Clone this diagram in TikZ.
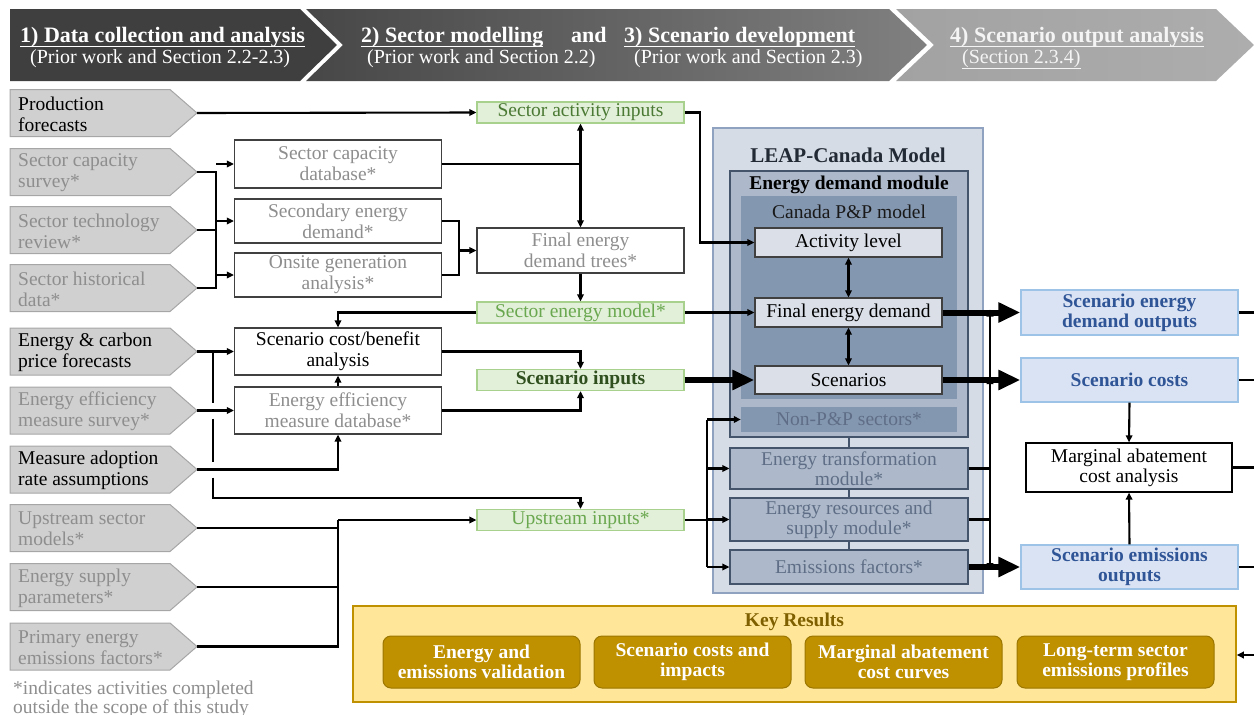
\documentclass[tikz,border=0pt]{standalone}
\usepackage{fontspec}
\setmainfont{Liberation Serif}
\usetikzlibrary{arrows.meta,calc}

\definecolor{hdA}{HTML}{3F3F3F}
\definecolor{hdBa}{HTML}{474747}
\definecolor{hdBb}{HTML}{808080}
\definecolor{hdCa}{HTML}{A2A2A2}
\definecolor{hdCb}{HTML}{ADADAD}
\definecolor{hdT}{HTML}{F4F4F4}
\definecolor{chevF}{HTML}{D0D0D0}
\definecolor{chevD}{HTML}{A6A6A6}
\definecolor{txtG}{HTML}{8E8E8E}
\definecolor{boxD}{HTML}{404040}
\definecolor{grnF}{HTML}{E2EFD9}
\definecolor{grnD}{HTML}{A9D18E}
\definecolor{grnTa}{HTML}{4B7A34}
\definecolor{grnTb}{HTML}{6AA84F}
\definecolor{grnTc}{HTML}{2F4F1E}
\definecolor{leapF}{HTML}{D6DCE5}
\definecolor{leapD}{HTML}{8FA3C0}
\definecolor{leapT}{HTML}{222A35}
\definecolor{edmF}{HTML}{ADB9CA}
\definecolor{edmD}{HTML}{44546A}
\definecolor{cppF}{HTML}{8497B0}
\definecolor{modT}{HTML}{5F6E86}
\definecolor{lvlF}{HTML}{DADFE8}
\definecolor{outF}{HTML}{DAE3F3}
\definecolor{outD}{HTML}{9DC3E6}
\definecolor{outT}{HTML}{2F5597}
\definecolor{krF}{HTML}{FFE699}
\definecolor{krD}{HTML}{BF9000}
\definecolor{krT}{HTML}{7F6000}
\definecolor{krI}{HTML}{BF9000}
\definecolor{krID}{HTML}{9C7700}

\newcommand\fsBody{\fontsize{19.5}{21}\selectfont}
\newcommand\fsMod{\fontsize{19.5}{20}\selectfont}
\newcommand\fsHead{\fontsize{22}{24}\selectfont}
\newcommand\fsSub{\fontsize{20}{22}\selectfont}
\newcommand\fsLeap{\fontsize{21}{23}\selectfont}

% grey input chevron: name, centre y, text colour, text
\newcommand\chev[4]{%
  \draw[chevshape] (10,#2-23.5) -- (170,#2-23.5) -- (197,#2) -- (170,#2+23.5) -- (10,#2+23.5) -- cycle;
  \node[chevtext,text=#3] (#1) at (18,#2+1) {#4};
  \coordinate (#1-tip) at (197,#2);}

\begin{document}
\begin{tikzpicture}[x=1pt,y=-1pt,
  every node/.style={font=\fsBody,inner sep=0pt},
  conn/.style={line width=2.1pt},
  arr/.style={conn,-{Triangle[length=7pt,width=6.5pt]}},
  darr/.style={conn,{Triangle[length=7pt,width=6.5pt]}-{Triangle[length=7pt,width=6.5pt]}},
  tarr/.style={line width=6pt,-{Triangle[length=22pt,width=19pt]}},
  chevshape/.style={fill=chevF,draw=chevD,line width=1pt},
  chevtext/.style={anchor=west,align=left},
  wbox/.style={draw=boxD,fill=white,line width=1.2pt,minimum width=207pt,align=center},
  gbox/.style={draw=grnD,fill=grnF,line width=1.2pt,minimum width=207pt,minimum height=21pt,align=center},
  lvlbox/.style={draw=boxD,fill=lvlF,line width=1.2pt,minimum width=187pt,minimum height=29pt},
  modbox/.style={draw=edmD,fill=edmF,line width=1.2pt,minimum width=238pt,align=center,text=modT,font=\fsMod},
  obox/.style={draw=outD,fill=outF,line width=1.2pt,minimum width=217pt,minimum height=44pt,align=center,text=outT,font=\fsMod\bfseries},
  kbox/.style={draw=krID,fill=krI,line width=1pt,rounded corners=8pt,minimum width=197pt,minimum height=52pt,align=center,text=white,font=\fsMod\bfseries},
  hdtitle/.style={anchor=base west,text=white,font=\fsHead\bfseries},
  hdsub/.style={anchor=base west,text=white,font=\fsSub},
  uline/.style={line width=1.3pt}
]
\useasboundingbox (0,0) rectangle (1254,715);

% ---------- stage banner ----------
\fill[hdA] (10,9) -- (300,9) -- (337,45) -- (300,81) -- (10,81) -- cycle;
\shade[left color=hdBa,right color=hdBb] (306,9) -- (889,9) -- (927,45) -- (889,81) -- (306,81) -- (343,45) -- cycle;
\shade[left color=hdCa,right color=hdCb] (896,9) -- (1216,9) -- (1254,45) -- (1216,81) -- (896,81) -- (934,45) -- cycle;

\node[hdtitle] (h1) at (20,42) {1) Data collection and analysis};
\node[hdsub] (h1s) at (30,63.5) {(Prior work and Section 2.2-2.3)};
\node[hdtitle] (h2) at (361,42) {2) Sector modelling};
\node[hdtitle] (hand) at (571,42) {and};
\node[hdtitle] (h3) at (624,42) {3) Scenario development};
\node[hdsub] (h2s) at (367,63.5) {(Prior work and Section 2.2)};
\node[hdsub] (h3s) at (634,63.5) {(Prior work and Section 2.3)};
\node[hdtitle,text=hdT] (h4) at (950,42) {4) Scenario output analysis};
\node[hdsub,text=hdT] (h4s) at (962,63.5) {(Section 2.3.4)};
\foreach \h in {h1,h2,h3}
  \draw[uline,white] ($(\h.base west)+(0,4.5)$) -- ($(\h.base east)+(0,4.5)$);
\draw[uline,hdT] ($(h4.base west)+(0,4.5)$) -- ($(h4.base east)+(0,4.5)$);
\draw[line width=1pt,hdT] ($(h4s.base west)+(0,4.5)$) -- ($(h4s.base east)+(0,4.5)$);

% ---------- input chevrons ----------
\chev{pf}{113}{black}{Production\\forecasts}
\chev{scs}{172}{txtG}{Sector capacity\\survey*}
\chev{str}{230}{txtG}{Sector technology\\review*}
\chev{shd}{288}{txtG}{Sector historical\\data*}
\chev{ecp}{351.5}{black}{Energy \& carbon\\price forecasts}
\chev{ees}{410.5}{txtG}{Energy efficiency\\measure survey*}
\chev{mar}{469.5}{black}{Measure adoption\\rate assumptions}
\chev{uss}{528}{txtG}{Upstream sector\\models*}
\chev{esp}{587}{txtG}{Energy supply\\parameters*}
\chev{pef}{646.5}{txtG}{Primary energy\\emissions factors*}

\node[anchor=base west,text=txtG] (fn1) at (13,694) {*indicates activities completed};
\node[anchor=base west,text=txtG] (fn2) at (13,713) {outside the scope of this study};

% ---------- analysis boxes ----------
\node[wbox,minimum height=48pt,text=txtG] (scd) at (338,164) {Sector capacity\\database*};
\node[wbox,minimum height=44pt,text=txtG] (sed) at (338,221) {Secondary energy\\demand*};
\node[wbox,minimum height=44pt,text=txtG] (oga) at (338,275) {Onsite generation\\analysis*};
\node[wbox,minimum height=47pt] (scb) at (338,351.5) {Scenario cost/benefit\\analysis};
\node[wbox,minimum height=47pt,text=txtG] (eed) at (338,410.5) {Energy efficiency\\measure database*};

\node[gbox,text=grnTa] (sai) at (580.5,112.5) {Sector activity inputs};
\node[wbox,minimum height=45pt,text=txtG] (fedt) at (580.5,250.5) {Final energy\\demand trees*};
\node[gbox,text=grnTb] (sem) at (580.5,312.5) {Sector energy model*};
\node[gbox,text=grnTc,font=\fsBody\bfseries] (si) at (580.5,380) {Scenario inputs};
\node[gbox,text=grnTb] (ui) at (580.5,520) {Upstream inputs*};

% ---------- LEAP-Canada model ----------
\node[draw=leapD,fill=leapF,line width=1.2pt,minimum width=270pt,minimum height=465pt] (leap) at (848,360.5) {};
\node[font=\fsLeap\bfseries,text=leapT] (leapt) at (848,155) {LEAP-Canada Model};
\node[draw=edmD,fill=edmF,line width=1.2pt,minimum width=238pt,minimum height=266pt] (edm) at (849,304) {};
\node[font=\fsBody\bfseries] (edmt) at (849,185) {Energy demand module};
\node[fill=cppF,minimum width=216pt,minimum height=203pt] (cpp) at (849,297.5) {};
\node[text=black!90] (cppt) at (849,212) {Canada P\&P model};
\node[lvlbox] (al) at (848.5,242.5) {Activity level};
\node[lvlbox] (fed) at (848.5,312.5) {Final energy demand};
\node[lvlbox,minimum height=28pt] (sc) at (848.5,380) {Scenarios};
\node[fill=cppF,minimum width=216pt,minimum height=25pt,text=modT] (npp) at (849,419.5) {Non-P\&P sectors*};
\node[modbox,minimum height=41pt] (etm) at (849,468.5) {Energy transformation\\module*};
\node[modbox,minimum height=43pt] (ers) at (849,519.5) {Energy resources and\\supply module*};
\node[modbox,minimum height=34pt] (ef) at (849,567) {Emissions factors*};

% ---------- outputs ----------
\node[obox,minimum height=45pt] (sedo) at (1129.5,312.5) {Scenario energy\\demand outputs};
\node[obox] (scost) at (1129.5,380) {Scenario costs};
\node[draw=black,fill=white,line width=1.2pt,minimum width=206pt,minimum height=49pt,align=center,font=\fsMod] (mac) at (1129,467.5) {Marginal abatement\\cost analysis};
\node[obox] (seo) at (1129.5,567) {Scenario emissions\\outputs};

% ---------- key results ----------
\node[draw=krD,fill=krF,line width=1.5pt,minimum width=883pt,minimum height=96pt] (kr) at (794.5,654) {};
\node[font=\fsBody\bfseries,text=krT] (krt) at (794.5,622) {Key Results};
\node[kbox] (k1) at (481.5,662) {Energy and\\emissions validation};
\node[kbox] (k2) at (692.5,662) {Scenario costs and\\impacts};
\node[kbox] (k3) at (903.5,662) {Marginal abatement\\cost curves};
\node[kbox] (k4) at (1115.5,662) {Long-term sector\\emissions profiles};

% ---------- connectors: data collection ----------
\draw[arr] (pf-tip) -- (sai.west);

\coordinate (cb) at (216,0);
\draw[conn] (scs-tip) -- (scs-tip -| cb) -- (shd-tip -| cb) -- (shd-tip);
\draw[conn] (str-tip) -- (str-tip -| cb);
\draw[arr] (scd.west -| cb) -- (scd.west);
\draw[arr] (sed.west -| cb) -- (sed.west);
\draw[arr] (oga.west -| cb) -- (oga.west);

\draw[conn] (scd.east) -- (scd.east -| sai.south);
\draw[darr] (sai.south) -- (fedt.north);
\coordinate (sb) at (459,0);
\draw[conn] (sed.east) -- (sed.east -| sb) -- (oga.east -| sb) -- (oga.east);
\draw[arr] (fedt.west -| sb) -- (fedt.west);
\draw[arr] (fedt.south) -- (sem.north);

\draw[arr] (ecp-tip) -- (scb.west);
\draw[arr] (ees-tip) -- (eed.west);
\draw[arr] (mar-tip) -| (eed.south);
\draw[arr] (eed.north) -- (scb.south);
\draw[arr] (sem.west) -| (scb.north);
\draw[arr] (scb.east) -| (si.north);
\draw[arr] (eed.east) -| (si.south);

% price forecasts also feed the upstream inputs (broken where lines cross)
\coordinate (pb) at (213,0);
\coordinate (lowbus) at (213,498);
\draw[conn] (pb |- ecp-tip) -- ($(pb |- eed.west)+(0,-8)$);
\draw[conn] ($(pb |- eed.west)+(0,8)$) -- ($(pb |- mar-tip)+(0,-8)$);
\draw[arr] ($(pb |- mar-tip)+(0,8)$) -- (lowbus) -| (ui.north);

\coordinate (ub) at (eed.south |- ui.west);
\draw[conn] (pef-tip) -| (ub);
\draw[conn] (uss-tip) -- (uss-tip -| ub);
\draw[conn] (esp-tip) -- (esp-tip -| ub);
\draw[arr] (ub) -- (ui.west);

% ---------- connectors: into the model ----------
\coordinate (sa) at (700,0);
\draw[arr] (sai.east) -- (sai.east -| sa) |- (al.west);
\draw[arr] (sem.east) -- (fed.west);
\draw[tarr] (si.east) -- (sc.west);

\coordinate (ib) at (707,0);
\draw[conn] (ui.east) -- (ui.east -| ib);
\draw[conn] (npp.west -| ib) -- (ef.west -| ib);
\draw[arr] (npp.west -| ib) -- (npp.west);
\draw[arr] (etm.west -| ib) -- (etm.west);
\draw[arr] (ers.west -| ib) -- (ers.west);
\draw[arr] (ef.west -| ib) -- (ef.west);

\draw[darr] (al.south) -- (fed.north);
\draw[darr] (fed.south) -- (sc.north);
\draw[line width=1.5pt,edmD] (edm.south) -- (etm.north);
\draw[line width=1.5pt,edmD] (etm.south) -- (ers.north);
\draw[line width=1.5pt,edmD] (ers.south) -- (ef.north);

% ---------- connectors: outputs ----------
\draw[tarr] (fed.east) -- (sedo.west);
\draw[tarr] (sc.east) -- (scost.west);
\draw[tarr] (ef.east) -- (seo.west);

\coordinate (rb) at (990,0);
\draw[conn] (etm.east) -- (etm.east -| rb);
\draw[conn] (ers.east) -- (ers.east -| rb);
\draw[conn] (etm.east -| rb) -- (ers.east -| rb);
\draw[arr] (etm.east -| rb) -- ($(sc.east -| rb)+(0,-3)$);
\draw[arr] (sc.east -| rb) -- ($(fed.east -| rb)+(0,-3)$);
\draw[arr] (ers.east -| rb) -- ($(ef.east -| rb)+(0,3)$);

\draw[arr] (scost.south) -- (mac.north);
\draw[arr] (seo.north) -- (mac.south);

\coordinate (redge) at (1254,0);
\draw[conn] (sedo.east) -- (sedo.east -| redge);
\draw[conn] (scost.east) -- (scost.east -| redge);
\draw[conn] (mac.east) -- (mac.east -| redge);
\draw[conn] (seo.east) -- (seo.east -| redge);
\coordinate (krin) at (1254,655);
\draw[arr] (krin) -- (krin -| kr.east);
\end{tikzpicture}
\end{document}
